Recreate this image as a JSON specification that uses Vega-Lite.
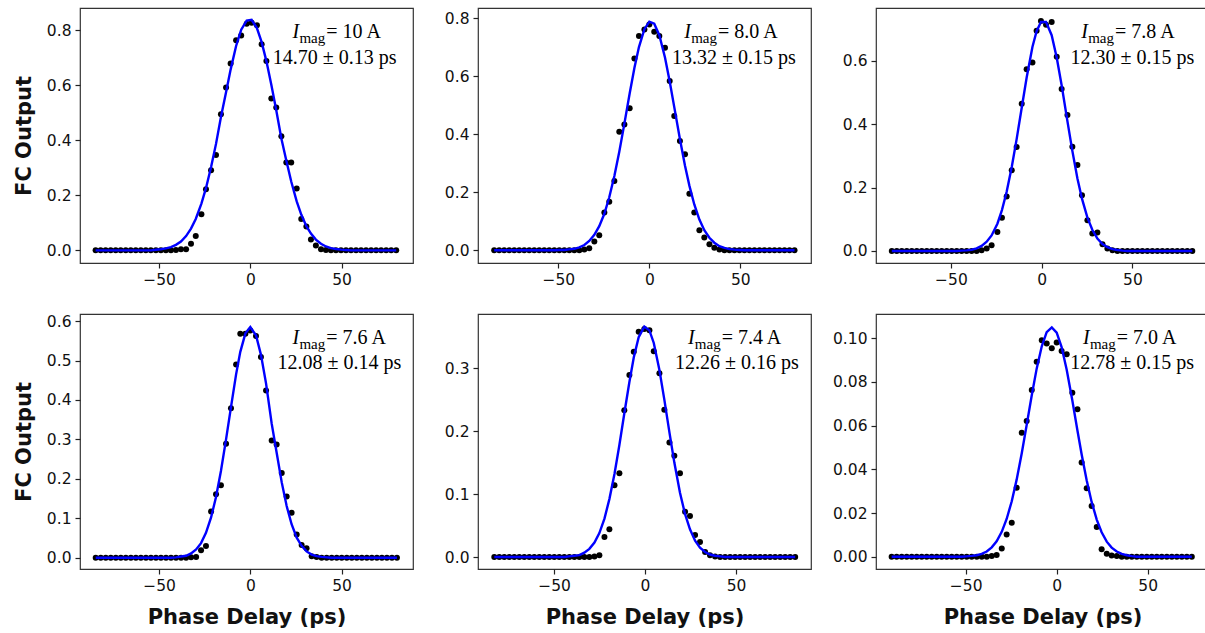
{
"$schema": "https://vega.github.io/schema/vega-lite/v6.json",
"background": "white",
"padding": {"left": 12, "top": 7, "right": 0, "bottom": 4},
"config": {
  "view": {"stroke": "#333333", "strokeWidth": 1.2},
  "axis": {"grid": false, "domain": false, "tickColor": "#222222", "tickSize": 5, "tickWidth": 1.2, "labelFont": "DejaVu Sans", "labelFontSize": 15.5, "labelColor": "#111111", "labelPadding": 4, "titleFont": "DejaVu Sans", "titleFontSize": 21, "titleFontWeight": "bold", "titleColor": "#111111"},
  "axisY": {"titlePadding": 12},
  "axisX": {"titlePadding": 13}
},
"datasets": {
"pts": [
{"p":1,"x":-84.75,"y":0,"f":0},{"p":1,"x":-82,"y":0,"f":0},{"p":1,"x":-79.25,"y":0,"f":0},{"p":1,"x":-76.5,"y":0,"f":0},{"p":1,"x":-73.75,"y":0,"f":0},{"p":1,"x":-71,"y":0,"f":0},{"p":1,"x":-68.25,"y":0,"f":0},{"p":1,"x":-65.5,"y":0,"f":0},{"p":1,"x":-62.75,"y":0,"f":0},{"p":1,"x":-60,"y":0,"f":0},{"p":1,"x":-57.25,"y":0,"f":0},{"p":1,"x":-54.5,"y":0,"f":0},{"p":1,"x":-51.75,"y":0,"f":0.002},{"p":1,"x":-49,"y":0,"f":0.004},{"p":1,"x":-46.25,"y":0,"f":0.007},{"p":1,"x":-43.5,"y":0,"f":0.012},{"p":1,"x":-40.75,"y":0.001,"f":0.02},
{"p":1,"x":-38,"y":0.004,"f":0.032},{"p":1,"x":-35.2,"y":0.004,"f":0.052},{"p":1,"x":-32.5,"y":0.024,"f":0.079},{"p":1,"x":-29.9,"y":0.052,"f":0.114},{"p":1,"x":-26.8,"y":0.131,"f":0.17},{"p":1,"x":-24.3,"y":0.222,"f":0.226},{"p":1,"x":-21.5,"y":0.291,"f":0.303},{"p":1,"x":-18.8,"y":0.347,"f":0.387},{"p":1,"x":-16.1,"y":0.495,"f":0.485},{"p":1,"x":-13.3,"y":0.592,"f":0.575},{"p":1,"x":-10.8,"y":0.679,"f":0.657},{"p":1,"x":-7.8,"y":0.764,"f":0.743},{"p":1,"x":-5,"y":0.781,"f":0.802},{"p":1,"x":-2,"y":0.824,"f":0.835},{"p":1,"x":0.7,"y":0.827,"f":0.838},{"p":1,"x":3.6,"y":0.818,"f":0.808},{"p":1,"x":6.2,"y":0.749,"f":0.757},{"p":1,"x":8.8,"y":0.688,"f":0.688},{"p":1,"x":11.5,"y":0.552,"f":0.602},{"p":1,"x":14.2,"y":0.519,"f":0.509},{"p":1,"x":17,"y":0.415,"f":0.407},{"p":1,"x":19.7,"y":0.319,"f":0.327},{"p":1,"x":22.4,"y":0.319,"f":0.25},{"p":1,"x":25.4,"y":0.225,"f":0.178},{"p":1,"x":27.9,"y":0.114,"f":0.13},{"p":1,"x":30.7,"y":0.087,"f":0.088},{"p":1,"x":33.2,"y":0.039,"f":0.061},{"p":1,"x":35.9,"y":0.018,"f":0.039},{"p":1,"x":38.7,"y":0.004,"f":0.024},{"p":1,"x":41.4,"y":0.001,"f":0.014},
{"p":1,"x":44.15,"y":0,"f":0.008},{"p":1,"x":46.9,"y":0,"f":0.005},{"p":1,"x":49.65,"y":0,"f":0.0025},{"p":1,"x":52.4,"y":0,"f":0.001},{"p":1,"x":55.15,"y":0,"f":0},{"p":1,"x":57.9,"y":0,"f":0},{"p":1,"x":60.65,"y":0,"f":0},{"p":1,"x":63.4,"y":0,"f":0},{"p":1,"x":66.15,"y":0,"f":0},{"p":1,"x":68.9,"y":0,"f":0},{"p":1,"x":71.65,"y":0,"f":0},{"p":1,"x":74.4,"y":0,"f":0},{"p":1,"x":77.15,"y":0,"f":0},{"p":1,"x":79.9,"y":0,"f":0},

{"p":2,"x":-85.2,"y":0,"f":0},{"p":2,"x":-82.45,"y":0,"f":0},{"p":2,"x":-79.7,"y":0,"f":0},{"p":2,"x":-76.95,"y":0,"f":0},{"p":2,"x":-74.2,"y":0,"f":0},{"p":2,"x":-71.45,"y":0,"f":0},{"p":2,"x":-68.7,"y":0,"f":0},{"p":2,"x":-65.95,"y":0,"f":0},{"p":2,"x":-63.2,"y":0,"f":0},{"p":2,"x":-60.45,"y":0,"f":0},{"p":2,"x":-57.7,"y":0,"f":0},{"p":2,"x":-54.95,"y":0,"f":0},{"p":2,"x":-52.2,"y":0,"f":0},{"p":2,"x":-49.45,"y":0,"f":0.001},{"p":2,"x":-46.7,"y":0,"f":0.001},{"p":2,"x":-43.95,"y":0,"f":0.003},{"p":2,"x":-41.2,"y":0,"f":0.005},{"p":2,"x":-38.45,"y":0,"f":0.01},
{"p":2,"x":-35.7,"y":0.003,"f":0.018},{"p":2,"x":-33,"y":0.007,"f":0.032},{"p":2,"x":-30.2,"y":0.03,"f":0.053},{"p":2,"x":-27.5,"y":0.052,"f":0.083},{"p":2,"x":-24.7,"y":0.13,"f":0.126},{"p":2,"x":-22,"y":0.167,"f":0.183},{"p":2,"x":-19.2,"y":0.239,"f":0.256},{"p":2,"x":-16.5,"y":0.409,"f":0.34},{"p":2,"x":-13.7,"y":0.434,"f":0.437},{"p":2,"x":-10.8,"y":0.49,"f":0.541},{"p":2,"x":-8.2,"y":0.662,"f":0.629},{"p":2,"x":-5.7,"y":0.739,"f":0.701},{"p":2,"x":-2.7,"y":0.762,"f":0.763},{"p":2,"x":0,"y":0.779,"f":0.789},{"p":2,"x":2.7,"y":0.754,"f":0.782},{"p":2,"x":5.5,"y":0.739,"f":0.742},{"p":2,"x":8.6,"y":0.699,"f":0.665},{"p":2,"x":11.2,"y":0.584,"f":0.582},{"p":2,"x":13.7,"y":0.463,"f":0.494},{"p":2,"x":16.8,"y":0.377,"f":0.384},{"p":2,"x":19.6,"y":0.331,"f":0.292},{"p":2,"x":22,"y":0.195,"f":0.223},{"p":2,"x":24.7,"y":0.13,"f":0.158},{"p":2,"x":27.5,"y":0.069,"f":0.106},{"p":2,"x":30.2,"y":0.044,"f":0.069},{"p":2,"x":33,"y":0.021,"f":0.043},{"p":2,"x":35.7,"y":0.009,"f":0.026},{"p":2,"x":38.5,"y":0.003,"f":0.014},
{"p":2,"x":41.25,"y":0,"f":0.008},{"p":2,"x":44,"y":0,"f":0.004},{"p":2,"x":46.75,"y":0,"f":0.002},{"p":2,"x":49.5,"y":0,"f":0.001},{"p":2,"x":52.25,"y":0,"f":0},{"p":2,"x":55,"y":0,"f":0},{"p":2,"x":57.75,"y":0,"f":0},{"p":2,"x":60.5,"y":0,"f":0},{"p":2,"x":63.25,"y":0,"f":0},{"p":2,"x":66,"y":0,"f":0},{"p":2,"x":68.75,"y":0,"f":0},{"p":2,"x":71.5,"y":0,"f":0},{"p":2,"x":74.25,"y":0,"f":0},{"p":2,"x":77,"y":0,"f":0},{"p":2,"x":79.75,"y":0,"f":0},

{"p":3,"x":-82.6,"y":0,"f":0},{"p":3,"x":-79.85,"y":0,"f":0},{"p":3,"x":-77.1,"y":0,"f":0},{"p":3,"x":-74.35,"y":0,"f":0},{"p":3,"x":-71.6,"y":0,"f":0},{"p":3,"x":-68.85,"y":0,"f":0},{"p":3,"x":-66.1,"y":0,"f":0},{"p":3,"x":-63.35,"y":0,"f":0},{"p":3,"x":-60.6,"y":0,"f":0},{"p":3,"x":-57.85,"y":0,"f":0},{"p":3,"x":-55.1,"y":0,"f":0},{"p":3,"x":-52.35,"y":0,"f":0},{"p":3,"x":-49.6,"y":0,"f":0},{"p":3,"x":-46.85,"y":0,"f":0},{"p":3,"x":-44.1,"y":0,"f":0.001},{"p":3,"x":-41.35,"y":0,"f":0.002},{"p":3,"x":-38.6,"y":0,"f":0.004},{"p":3,"x":-35.85,"y":0,"f":0.008},
{"p":3,"x":-33.1,"y":0.002,"f":0.016},{"p":3,"x":-30.3,"y":0.008,"f":0.029},{"p":3,"x":-27.6,"y":0.018,"f":0.049},{"p":3,"x":-24.4,"y":0.06,"f":0.086},{"p":3,"x":-21.9,"y":0.105,"f":0.129},{"p":3,"x":-19.3,"y":0.172,"f":0.187},{"p":3,"x":-16.5,"y":0.255,"f":0.265},{"p":3,"x":-13.8,"y":0.328,"f":0.353},{"p":3,"x":-11,"y":0.465,"f":0.452},{"p":3,"x":-8.3,"y":0.574,"f":0.547},{"p":3,"x":-5.1,"y":0.595,"f":0.644},{"p":3,"x":-2.8,"y":0.695,"f":0.694},{"p":3,"x":-0.4,"y":0.726,"f":0.723},{"p":3,"x":2.4,"y":0.714,"f":0.723},{"p":3,"x":5.5,"y":0.723,"f":0.681},{"p":3,"x":8.3,"y":0.613,"f":0.61},{"p":3,"x":11,"y":0.511,"f":0.523},{"p":3,"x":14.2,"y":0.429,"f":0.409},{"p":3,"x":16.9,"y":0.329,"f":0.316},{"p":3,"x":19.7,"y":0.271,"f":0.229},{"p":3,"x":22.2,"y":0.176,"f":0.165},{"p":3,"x":25.2,"y":0.097,"f":0.105},{"p":3,"x":27.9,"y":0.055,"f":0.067},{"p":3,"x":30.7,"y":0.058,"f":0.039},{"p":3,"x":33.5,"y":0.021,"f":0.022},{"p":3,"x":36.2,"y":0.008,"f":0.012},{"p":3,"x":39,"y":0.002,"f":0.006},
{"p":3,"x":41.75,"y":0,"f":0.003},{"p":3,"x":44.5,"y":0,"f":0.001},{"p":3,"x":47.25,"y":0,"f":0},{"p":3,"x":50,"y":0,"f":0},{"p":3,"x":52.75,"y":0,"f":0},{"p":3,"x":55.5,"y":0,"f":0},{"p":3,"x":58.25,"y":0,"f":0},{"p":3,"x":61,"y":0,"f":0},{"p":3,"x":63.75,"y":0,"f":0},{"p":3,"x":66.5,"y":0,"f":0},{"p":3,"x":69.25,"y":0,"f":0},{"p":3,"x":72,"y":0,"f":0},{"p":3,"x":74.75,"y":0,"f":0},{"p":3,"x":77.5,"y":0,"f":0},{"p":3,"x":80.25,"y":0,"f":0},{"p":3,"x":83,"y":0,"f":0},

{"p":4,"x":-84.7,"y":0,"f":0},{"p":4,"x":-81.95,"y":0,"f":0},{"p":4,"x":-79.2,"y":0,"f":0},{"p":4,"x":-76.45,"y":0,"f":0},{"p":4,"x":-73.7,"y":0,"f":0},{"p":4,"x":-70.95,"y":0,"f":0},{"p":4,"x":-68.2,"y":0,"f":0},{"p":4,"x":-65.45,"y":0,"f":0},{"p":4,"x":-62.7,"y":0,"f":0},{"p":4,"x":-59.95,"y":0,"f":0},{"p":4,"x":-57.2,"y":0,"f":0},{"p":4,"x":-54.45,"y":0,"f":0},{"p":4,"x":-51.7,"y":0,"f":0},{"p":4,"x":-48.95,"y":0,"f":0},{"p":4,"x":-46.2,"y":0,"f":0},{"p":4,"x":-43.45,"y":0,"f":0},{"p":4,"x":-40.7,"y":0,"f":0.001},{"p":4,"x":-37.95,"y":0,"f":0.003},{"p":4,"x":-35.2,"y":0,"f":0.005},{"p":4,"x":-32.45,"y":0.001,"f":0.011},
{"p":4,"x":-29.7,"y":0.002,"f":0.021},{"p":4,"x":-27,"y":0.019,"f":0.037},{"p":4,"x":-24.3,"y":0.03,"f":0.063},{"p":4,"x":-21.5,"y":0.117,"f":0.102},{"p":4,"x":-18.8,"y":0.161,"f":0.154},{"p":4,"x":-16.1,"y":0.184,"f":0.22},{"p":4,"x":-13.3,"y":0.289,"f":0.3},{"p":4,"x":-10.6,"y":0.379,"f":0.382},{"p":4,"x":-7.8,"y":0.49,"f":0.465},{"p":4,"x":-5.5,"y":0.568,"f":0.522},{"p":4,"x":-2.7,"y":0.568,"f":0.569},{"p":4,"x":0,"y":0.576,"f":0.585},{"p":4,"x":3.1,"y":0.562,"f":0.564},{"p":4,"x":5.8,"y":0.509,"f":0.515},{"p":4,"x":8.6,"y":0.424,"f":0.442},{"p":4,"x":11.7,"y":0.297,"f":0.34},{"p":4,"x":14.4,"y":0.287,"f":0.267},{"p":4,"x":17.2,"y":0.215,"f":0.191},{"p":4,"x":19.9,"y":0.155,"f":0.131},{"p":4,"x":22.6,"y":0.114,"f":0.085},{"p":4,"x":25.4,"y":0.059,"f":0.051},{"p":4,"x":28.1,"y":0.032,"f":0.03},{"p":4,"x":30.8,"y":0.024,"f":0.016},{"p":4,"x":33.6,"y":0.004,"f":0.008},{"p":4,"x":36.3,"y":0.002,"f":0.004},
{"p":4,"x":39.05,"y":0,"f":0.002},{"p":4,"x":41.8,"y":0,"f":0.001},{"p":4,"x":44.55,"y":0,"f":0},{"p":4,"x":47.3,"y":0,"f":0},{"p":4,"x":50.05,"y":0,"f":0},{"p":4,"x":52.8,"y":0,"f":0},{"p":4,"x":55.55,"y":0,"f":0},{"p":4,"x":58.3,"y":0,"f":0},{"p":4,"x":61.05,"y":0,"f":0},{"p":4,"x":63.8,"y":0,"f":0},{"p":4,"x":66.55,"y":0,"f":0},{"p":4,"x":69.3,"y":0,"f":0},{"p":4,"x":72.05,"y":0,"f":0},{"p":4,"x":74.8,"y":0,"f":0},{"p":4,"x":77.55,"y":0,"f":0},{"p":4,"x":80.3,"y":0,"f":0},

{"p":5,"x":-82.85,"y":0,"f":0},{"p":5,"x":-80.1,"y":0,"f":0},{"p":5,"x":-77.35,"y":0,"f":0},{"p":5,"x":-74.6,"y":0,"f":0},{"p":5,"x":-71.85,"y":0,"f":0},{"p":5,"x":-69.1,"y":0,"f":0},{"p":5,"x":-66.35,"y":0,"f":0},{"p":5,"x":-63.6,"y":0,"f":0},{"p":5,"x":-60.85,"y":0,"f":0},{"p":5,"x":-58.1,"y":0,"f":0},{"p":5,"x":-55.35,"y":0,"f":0},{"p":5,"x":-52.6,"y":0,"f":0},{"p":5,"x":-49.85,"y":0,"f":0},{"p":5,"x":-47.1,"y":0,"f":0},{"p":5,"x":-44.35,"y":0,"f":0},{"p":5,"x":-41.6,"y":0,"f":0.001},{"p":5,"x":-38.85,"y":0,"f":0.002},{"p":5,"x":-36.1,"y":0,"f":0.003},{"p":5,"x":-33.35,"y":0,"f":0.007},
{"p":5,"x":-30.6,"y":0,"f":0.013},{"p":5,"x":-27.8,"y":0.001,"f":0.023},{"p":5,"x":-25.1,"y":0.003,"f":0.038},{"p":5,"x":-22.3,"y":0.032,"f":0.061},{"p":5,"x":-19.6,"y":0.044,"f":0.092},{"p":5,"x":-16.8,"y":0.114,"f":0.132},{"p":5,"x":-14.1,"y":0.133,"f":0.178},{"p":5,"x":-11.4,"y":0.233,"f":0.228},{"p":5,"x":-8.6,"y":0.289,"f":0.278},{"p":5,"x":-6.2,"y":0.326,"f":0.317},{"p":5,"x":-3.5,"y":0.358,"f":0.349},{"p":5,"x":-0.4,"y":0.362,"f":0.366},{"p":5,"x":2.4,"y":0.36,"f":0.36},{"p":5,"x":4.8,"y":0.327,"f":0.34},{"p":5,"x":7.9,"y":0.292,"f":0.297},{"p":5,"x":10.6,"y":0.234,"f":0.25},{"p":5,"x":13.4,"y":0.182,"f":0.198},{"p":5,"x":16.1,"y":0.161,"f":0.15},{"p":5,"x":19.2,"y":0.133,"f":0.102},{"p":5,"x":22,"y":0.072,"f":0.068},{"p":5,"x":24.7,"y":0.065,"f":0.044},{"p":5,"x":27.5,"y":0.035,"f":0.026},{"p":5,"x":30.2,"y":0.024,"f":0.015},{"p":5,"x":33,"y":0.008,"f":0.008},{"p":5,"x":35.7,"y":0.003,"f":0.004},{"p":5,"x":38.5,"y":0.001,"f":0.002},
{"p":5,"x":41.25,"y":0,"f":0.001},{"p":5,"x":44,"y":0,"f":0},{"p":5,"x":46.75,"y":0,"f":0},{"p":5,"x":49.5,"y":0,"f":0},{"p":5,"x":52.25,"y":0,"f":0},{"p":5,"x":55,"y":0,"f":0},{"p":5,"x":57.75,"y":0,"f":0},{"p":5,"x":60.5,"y":0,"f":0},{"p":5,"x":63.25,"y":0,"f":0},{"p":5,"x":66,"y":0,"f":0},{"p":5,"x":68.75,"y":0,"f":0},{"p":5,"x":71.5,"y":0,"f":0},{"p":5,"x":74.25,"y":0,"f":0},{"p":5,"x":77,"y":0,"f":0},{"p":5,"x":79.75,"y":0,"f":0},{"p":5,"x":82.5,"y":0,"f":0},

{"p":6,"x":-90.7,"y":0,"f":0},{"p":6,"x":-87.95,"y":0,"f":0},{"p":6,"x":-85.2,"y":0,"f":0},{"p":6,"x":-82.45,"y":0,"f":0},{"p":6,"x":-79.7,"y":0,"f":0},{"p":6,"x":-76.95,"y":0,"f":0},{"p":6,"x":-74.2,"y":0,"f":0},{"p":6,"x":-71.45,"y":0,"f":0},{"p":6,"x":-68.7,"y":0,"f":0},{"p":6,"x":-65.95,"y":0,"f":0},{"p":6,"x":-63.2,"y":0,"f":0},{"p":6,"x":-60.45,"y":0,"f":0},{"p":6,"x":-57.7,"y":0,"f":0},{"p":6,"x":-54.95,"y":0,"f":0},{"p":6,"x":-52.2,"y":0,"f":0},{"p":6,"x":-49.45,"y":0,"f":0.0002},{"p":6,"x":-46.7,"y":0,"f":0.0004},{"p":6,"x":-43.95,"y":0,"f":0.0007},{"p":6,"x":-41.2,"y":0,"f":0.0013},{"p":6,"x":-38.45,"y":0,"f":0.0024},
{"p":6,"x":-35.7,"y":0.0003,"f":0.0043},{"p":6,"x":-33,"y":0.0008,"f":0.0071},{"p":6,"x":-30.2,"y":0.0038,"f":0.0114},{"p":6,"x":-27.5,"y":0.0102,"f":0.0173},{"p":6,"x":-24.7,"y":0.0156,"f":0.0254},{"p":6,"x":-22,"y":0.0316,"f":0.0353},{"p":6,"x":-19.2,"y":0.0568,"f":0.0474},{"p":6,"x":-16.5,"y":0.0621,"f":0.0603},{"p":6,"x":-13.7,"y":0.0763,"f":0.0739},{"p":6,"x":-11,"y":0.0892,"f":0.0861},{"p":6,"x":-8.2,"y":0.0991,"f":0.0963},{"p":6,"x":-5.5,"y":0.0976,"f":0.1028},{"p":6,"x":-2.7,"y":0.0954,"f":0.105},{"p":6,"x":0,"y":0.098,"f":0.1026},{"p":6,"x":2.7,"y":0.0942,"f":0.096},{"p":6,"x":5.5,"y":0.0927,"f":0.0856},{"p":6,"x":8.6,"y":0.0751,"f":0.0715},{"p":6,"x":11.4,"y":0.0675,"f":0.0578},{"p":6,"x":13.7,"y":0.0431,"f":0.0469},{"p":6,"x":16.5,"y":0.0313,"f":0.0349},{"p":6,"x":19.2,"y":0.0232,"f":0.0251},{"p":6,"x":22,"y":0.0136,"f":0.017},{"p":6,"x":24.7,"y":0.0034,"f":0.0112},{"p":6,"x":27.5,"y":0.0014,"f":0.0069},{"p":6,"x":30.2,"y":0.0006,"f":0.0042},{"p":6,"x":33,"y":0.0003,"f":0.0024},
{"p":6,"x":35.75,"y":0,"f":0.0013},{"p":6,"x":38.5,"y":0,"f":0.0007},{"p":6,"x":41.25,"y":0,"f":0.0003},{"p":6,"x":44,"y":0,"f":0},{"p":6,"x":46.75,"y":0,"f":0},{"p":6,"x":49.5,"y":0,"f":0},{"p":6,"x":52.25,"y":0,"f":0},{"p":6,"x":55,"y":0,"f":0},{"p":6,"x":57.75,"y":0,"f":0},{"p":6,"x":60.5,"y":0,"f":0},{"p":6,"x":63.25,"y":0,"f":0},{"p":6,"x":66,"y":0,"f":0},{"p":6,"x":68.75,"y":0,"f":0},{"p":6,"x":71.5,"y":0,"f":0},{"p":6,"x":74.25,"y":0,"f":0}
],
"one": [{}]
},
"columns": 3,
"spacing": {"row": 51, "column": 65},
"bounds": "flush",
"concat": [
{
 "width": 333, "height": 255,
 "layer": [
  {"data": {"name": "pts"}, "transform": [{"filter": "datum.p == 1"}], "mark": {"type": "circle", "size": 36, "color": "black", "opacity": 1},
   "encoding": {"x": {"field": "x", "type": "quantitative", "title": null, "scale": {"domain": [-93.3, 89.1], "nice": false, "zero": false}, "axis": {"values": [-50, 0, 50]}},
                "y": {"field": "y", "type": "quantitative", "title": "FC Output", "scale": {"domain": [-0.046, 0.881], "nice": false, "zero": false}, "axis": {"values": [0, 0.2, 0.4, 0.6, 0.8], "format": ".1f"}}}},
  {"data": {"name": "pts"}, "transform": [{"filter": "datum.p == 1"}], "mark": {"type": "line", "color": "#0000ff", "strokeWidth": 2.4},
   "encoding": {"x": {"field": "x", "type": "quantitative", "title": null}, "y": {"field": "f", "type": "quantitative", "title": "FC Output"}}},
  {"data": {"name": "one"}, "mark": {"type": "text", "text": "I", "font": "Liberation Serif", "fontStyle": "italic", "fontSize": 20, "align": "right", "baseline": "alphabetic", "dx": -27, "color": "black"},
   "encoding": {"x": {"datum": 41.6}, "y": {"datum": 0.773}}},
  {"data": {"name": "one"}, "mark": {"type": "text", "text": "mag", "font": "Liberation Serif", "fontSize": 15, "align": "right", "baseline": "alphabetic", "dx": -1, "dy": 5, "color": "black"},
   "encoding": {"x": {"datum": 41.6}, "y": {"datum": 0.773}}},
  {"data": {"name": "one"}, "mark": {"type": "text", "text": "= 10 A", "font": "Liberation Serif", "fontSize": 20, "align": "left", "baseline": "alphabetic", "color": "black"},
   "encoding": {"x": {"datum": 41.6}, "y": {"datum": 0.773}}},
  {"data": {"name": "one"}, "mark": {"type": "text", "text": "14.70 ± 0.13 ps", "font": "Liberation Serif", "fontSize": 20, "align": "center", "baseline": "alphabetic", "color": "black"},
   "encoding": {"x": {"datum": 46.2}, "y": {"datum": 0.676}}}
 ]
},
{
 "width": 333, "height": 255,
 "layer": [
  {"data": {"name": "pts"}, "transform": [{"filter": "datum.p == 2"}], "mark": {"type": "circle", "size": 36, "color": "black", "opacity": 1},
   "encoding": {"x": {"field": "x", "type": "quantitative", "title": null, "scale": {"domain": [-94.1, 88.8], "nice": false, "zero": false}, "axis": {"values": [-50, 0, 50]}},
                "y": {"field": "y", "type": "quantitative", "title": null, "scale": {"domain": [-0.044, 0.836], "nice": false, "zero": false}, "axis": {"values": [0, 0.2, 0.4, 0.6, 0.8], "format": ".1f"}}}},
  {"data": {"name": "pts"}, "transform": [{"filter": "datum.p == 2"}], "mark": {"type": "line", "color": "#0000ff", "strokeWidth": 2.4},
   "encoding": {"x": {"field": "x", "type": "quantitative", "title": null}, "y": {"field": "f", "type": "quantitative", "title": null}}},
  {"data": {"name": "one"}, "mark": {"type": "text", "text": "I", "font": "Liberation Serif", "fontStyle": "italic", "fontSize": 20, "align": "right", "baseline": "alphabetic", "dx": -27, "color": "black"},
   "encoding": {"x": {"datum": 37.7}, "y": {"datum": 0.733}}},
  {"data": {"name": "one"}, "mark": {"type": "text", "text": "mag", "font": "Liberation Serif", "fontSize": 15, "align": "right", "baseline": "alphabetic", "dx": -1, "dy": 5, "color": "black"},
   "encoding": {"x": {"datum": 37.7}, "y": {"datum": 0.733}}},
  {"data": {"name": "one"}, "mark": {"type": "text", "text": "= 8.0 A", "font": "Liberation Serif", "fontSize": 20, "align": "left", "baseline": "alphabetic", "color": "black"},
   "encoding": {"x": {"datum": 37.7}, "y": {"datum": 0.733}}},
  {"data": {"name": "one"}, "mark": {"type": "text", "text": "13.32 ± 0.15 ps", "font": "Liberation Serif", "fontSize": 20, "align": "center", "baseline": "alphabetic", "color": "black"},
   "encoding": {"x": {"datum": 46.5}, "y": {"datum": 0.643}}}
 ]
},
{
 "width": 333, "height": 255,
 "layer": [
  {"data": {"name": "pts"}, "transform": [{"filter": "datum.p == 3"}], "mark": {"type": "circle", "size": 36, "color": "black", "opacity": 1},
   "encoding": {"x": {"field": "x", "type": "quantitative", "title": null, "scale": {"domain": [-91.3, 92.2], "nice": false, "zero": false}, "axis": {"values": [-50, 0, 50]}},
                "y": {"field": "y", "type": "quantitative", "title": null, "scale": {"domain": [-0.038, 0.767], "nice": false, "zero": false}, "axis": {"values": [0, 0.2, 0.4, 0.6], "format": ".1f"}}}},
  {"data": {"name": "pts"}, "transform": [{"filter": "datum.p == 3"}], "mark": {"type": "line", "color": "#0000ff", "strokeWidth": 2.4},
   "encoding": {"x": {"field": "x", "type": "quantitative", "title": null}, "y": {"field": "f", "type": "quantitative", "title": null}}},
  {"data": {"name": "one"}, "mark": {"type": "text", "text": "I", "font": "Liberation Serif", "fontStyle": "italic", "fontSize": 20, "align": "right", "baseline": "alphabetic", "dx": -27, "color": "black"},
   "encoding": {"x": {"datum": 40.4}, "y": {"datum": 0.672}}},
  {"data": {"name": "one"}, "mark": {"type": "text", "text": "mag", "font": "Liberation Serif", "fontSize": 15, "align": "right", "baseline": "alphabetic", "dx": -1, "dy": 5, "color": "black"},
   "encoding": {"x": {"datum": 40.4}, "y": {"datum": 0.672}}},
  {"data": {"name": "one"}, "mark": {"type": "text", "text": "= 7.8 A", "font": "Liberation Serif", "fontSize": 20, "align": "left", "baseline": "alphabetic", "color": "black"},
   "encoding": {"x": {"datum": 40.4}, "y": {"datum": 0.672}}},
  {"data": {"name": "one"}, "mark": {"type": "text", "text": "12.30 ± 0.15 ps", "font": "Liberation Serif", "fontSize": 20, "align": "center", "baseline": "alphabetic", "color": "black"},
   "encoding": {"x": {"datum": 50.0}, "y": {"datum": 0.59}}}
 ]
},
{
 "width": 333, "height": 255,
 "layer": [
  {"data": {"name": "pts"}, "transform": [{"filter": "datum.p == 4"}], "mark": {"type": "circle", "size": 36, "color": "black", "opacity": 1},
   "encoding": {"x": {"field": "x", "type": "quantitative", "title": "Phase Delay (ps)", "scale": {"domain": [-93.3, 89.1], "nice": false, "zero": false}, "axis": {"values": [-50, 0, 50]}},
                "y": {"field": "y", "type": "quantitative", "title": "FC Output", "scale": {"domain": [-0.0286, 0.618], "nice": false, "zero": false}, "axis": {"values": [0, 0.1, 0.2, 0.3, 0.4, 0.5, 0.6], "format": ".1f"}}}},
  {"data": {"name": "pts"}, "transform": [{"filter": "datum.p == 4"}], "mark": {"type": "line", "color": "#0000ff", "strokeWidth": 2.4},
   "encoding": {"x": {"field": "x", "type": "quantitative", "title": "Phase Delay (ps)"}, "y": {"field": "f", "type": "quantitative", "title": "FC Output"}}},
  {"data": {"name": "one"}, "mark": {"type": "text", "text": "I", "font": "Liberation Serif", "fontStyle": "italic", "fontSize": 20, "align": "right", "baseline": "alphabetic", "dx": -27, "color": "black"},
   "encoding": {"x": {"datum": 41.6}, "y": {"datum": 0.541}}},
  {"data": {"name": "one"}, "mark": {"type": "text", "text": "mag", "font": "Liberation Serif", "fontSize": 15, "align": "right", "baseline": "alphabetic", "dx": -1, "dy": 5, "color": "black"},
   "encoding": {"x": {"datum": 41.6}, "y": {"datum": 0.541}}},
  {"data": {"name": "one"}, "mark": {"type": "text", "text": "= 7.6 A", "font": "Liberation Serif", "fontSize": 20, "align": "left", "baseline": "alphabetic", "color": "black"},
   "encoding": {"x": {"datum": 41.6}, "y": {"datum": 0.541}}},
  {"data": {"name": "one"}, "mark": {"type": "text", "text": "12.08 ± 0.14 ps", "font": "Liberation Serif", "fontSize": 20, "align": "center", "baseline": "alphabetic", "color": "black"},
   "encoding": {"x": {"datum": 48.8}, "y": {"datum": 0.478}}}
 ]
},
{
 "width": 333, "height": 255,
 "layer": [
  {"data": {"name": "pts"}, "transform": [{"filter": "datum.p == 5"}], "mark": {"type": "circle", "size": 36, "color": "black", "opacity": 1},
   "encoding": {"x": {"field": "x", "type": "quantitative", "title": "Phase Delay (ps)", "scale": {"domain": [-91.8, 91.2], "nice": false, "zero": false}, "axis": {"values": [-50, 0, 50]}},
                "y": {"field": "y", "type": "quantitative", "title": null, "scale": {"domain": [-0.019, 0.386], "nice": false, "zero": false}, "axis": {"values": [0, 0.1, 0.2, 0.3], "format": ".1f"}}}},
  {"data": {"name": "pts"}, "transform": [{"filter": "datum.p == 5"}], "mark": {"type": "line", "color": "#0000ff", "strokeWidth": 2.4},
   "encoding": {"x": {"field": "x", "type": "quantitative", "title": "Phase Delay (ps)"}, "y": {"field": "f", "type": "quantitative", "title": null}}},
  {"data": {"name": "one"}, "mark": {"type": "text", "text": "I", "font": "Liberation Serif", "fontStyle": "italic", "fontSize": 20, "align": "right", "baseline": "alphabetic", "dx": -27, "color": "black"},
   "encoding": {"x": {"datum": 42.1}, "y": {"datum": 0.339}}},
  {"data": {"name": "one"}, "mark": {"type": "text", "text": "mag", "font": "Liberation Serif", "fontSize": 15, "align": "right", "baseline": "alphabetic", "dx": -1, "dy": 5, "color": "black"},
   "encoding": {"x": {"datum": 42.1}, "y": {"datum": 0.339}}},
  {"data": {"name": "one"}, "mark": {"type": "text", "text": "= 7.4 A", "font": "Liberation Serif", "fontSize": 20, "align": "left", "baseline": "alphabetic", "color": "black"},
   "encoding": {"x": {"datum": 42.1}, "y": {"datum": 0.339}}},
  {"data": {"name": "one"}, "mark": {"type": "text", "text": "12.26 ± 0.16 ps", "font": "Liberation Serif", "fontSize": 20, "align": "center", "baseline": "alphabetic", "color": "black"},
   "encoding": {"x": {"datum": 50.5}, "y": {"datum": 0.298}}}
 ]
},
{
 "width": 333, "height": 255,
 "layer": [
  {"data": {"name": "pts"}, "transform": [{"filter": "datum.p == 6"}], "mark": {"type": "circle", "size": 36, "color": "black", "opacity": 1},
   "encoding": {"x": {"field": "x", "type": "quantitative", "title": "Phase Delay (ps)", "scale": {"domain": [-99.3, 83.7], "nice": false, "zero": false}, "axis": {"values": [-50, 0, 50]}},
                "y": {"field": "y", "type": "quantitative", "title": null, "scale": {"domain": [-0.0056, 0.1111], "nice": false, "zero": false}, "axis": {"values": [0, 0.02, 0.04, 0.06, 0.08, 0.1], "format": ".2f"}}}},
  {"data": {"name": "pts"}, "transform": [{"filter": "datum.p == 6"}], "mark": {"type": "line", "color": "#0000ff", "strokeWidth": 2.4},
   "encoding": {"x": {"field": "x", "type": "quantitative", "title": "Phase Delay (ps)"}, "y": {"field": "f", "type": "quantitative", "title": null}}},
  {"data": {"name": "one"}, "mark": {"type": "text", "text": "I", "font": "Liberation Serif", "fontStyle": "italic", "fontSize": 20, "align": "right", "baseline": "alphabetic", "dx": -27, "color": "black"},
   "encoding": {"x": {"datum": 33.0}, "y": {"datum": 0.0973}}},
  {"data": {"name": "one"}, "mark": {"type": "text", "text": "mag", "font": "Liberation Serif", "fontSize": 15, "align": "right", "baseline": "alphabetic", "dx": -1, "dy": 5, "color": "black"},
   "encoding": {"x": {"datum": 33.0}, "y": {"datum": 0.0973}}},
  {"data": {"name": "one"}, "mark": {"type": "text", "text": "= 7.0 A", "font": "Liberation Serif", "fontSize": 20, "align": "left", "baseline": "alphabetic", "color": "black"},
   "encoding": {"x": {"datum": 33.0}, "y": {"datum": 0.0973}}},
  {"data": {"name": "one"}, "mark": {"type": "text", "text": "12.78 ± 0.15 ps", "font": "Liberation Serif", "fontSize": 20, "align": "center", "baseline": "alphabetic", "color": "black"},
   "encoding": {"x": {"datum": 41.5}, "y": {"datum": 0.0858}}}
 ]
}
]
}
